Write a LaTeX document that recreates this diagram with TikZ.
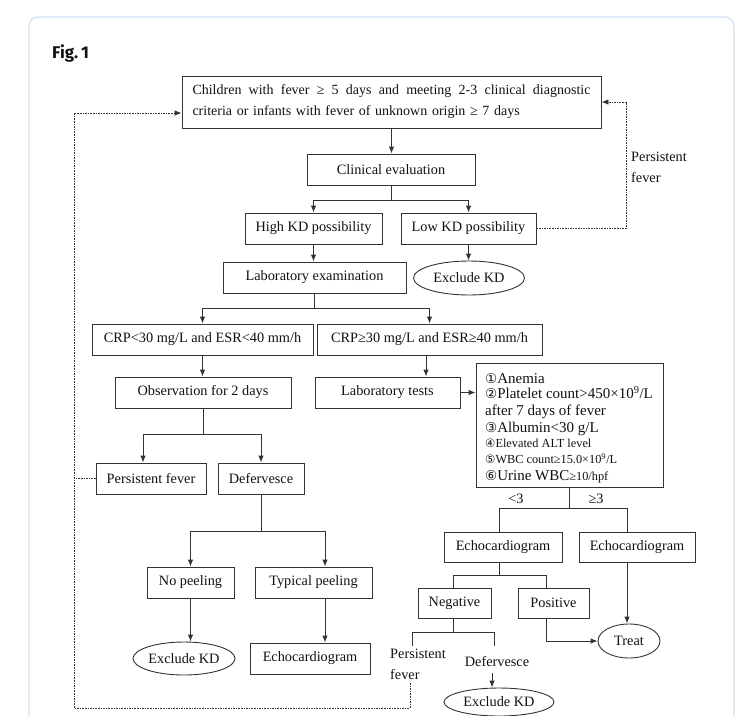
\documentclass[tikz,border=0pt]{standalone}
\usepackage{fontspec}
\setmainfont{Liberation Serif}
\newfontfamily\figfont{Fira Sans}
\newfontfamily\circfont{DejaVu Sans}
\usetikzlibrary{arrows.meta,shapes.geometric,calc}
\definecolor{linec}{HTML}{333333}
\definecolor{txtc}{HTML}{111111}
\definecolor{cardc}{HTML}{CFE2F3}
\newcommand\cnum[1]{{\circfont\fontsize{13.5}{13.5}\selectfont #1}}
\newcommand\cnumsm[1]{{\circfont\fontsize{11.5}{11.5}\selectfont #1}}
\tikzset{
 box/.style={draw=linec, line width=0.9pt, rectangle, inner sep=0pt, align=center, text=txtc, font=\fontsize{14.3}{17}\selectfont, minimum height=31pt},
 oval/.style={draw=linec, line width=0.9pt, ellipse, inner sep=0pt, text=txtc, font=\fontsize{14.3}{17}\selectfont},
 con/.style={draw=linec, line width=0.9pt},
 arr/.style={con, -{Latex[length=7pt,width=5.5pt]}},
 dsh/.style={draw=linec, line width=0.8pt, dash pattern=on 1.6pt off 1pt},
 dsharr/.style={dsh, -{Latex[length=7pt,width=5.5pt]}},
 lbl/.style={text=txtc, font=\fontsize{14.3}{21}\selectfont, inner sep=0pt},
 critline/.style={anchor=base west, inner sep=0pt, text=txtc},
}
\begin{document}
\begin{tikzpicture}[x=1pt,y=-1pt]
\useasboundingbox (0,0) rectangle (752,715);
% card
\draw[cardc, line width=1.2pt, rounded corners=9pt] (29,740) -- (29,17) -- (734,17) -- (734,740);
\node[font=\figfont\bfseries\fontsize{17}{17}\selectfont, text=txtc, anchor=west, inner sep=0pt] (fig) at (52,53) {Fig.\,1};

% boxes
\node[box, minimum width=419pt, minimum height=52pt, text width=398pt, align=left, font=\fontsize{14}{21}\selectfont] (top) at (391.5,102)
  {\hbox to 398pt{Children\hfill with\hfill fever\hfill ≥\hfill 5\hfill days\hfill and\hfill meeting\hfill 2-3\hfill clinical\hfill diagnostic}\\criteria or infants with fever of unknown origin ≥ 7 days};
\node[box, minimum width=168pt] (clin) at (391,169.5) {Clinical evaluation};
\node[box, minimum width=137pt] (high) at (313.5,228.5) {High KD possibility};
\node[box, minimum width=135pt] (low) at (468.5,228.5) {Low KD possibility};
\node[box, minimum width=183pt] (labexam) at (314.5,277.5) {Laboratory examination};
\node[oval, minimum width=111pt, minimum height=34pt] (excl1) at (469,278) {Exclude KD};
\node[lbl, align=left, anchor=west] (pfl1) at (631,167.5) {Persistent\\fever};

\node[box, minimum width=221pt] (crp1) at (202.5,339.5) {CRP<30 mg/L and ESR<40 mm/h};
\node[box, minimum width=225pt] (crp2) at (429.5,339.5) {CRP≥30 mg/L and ESR≥40 mm/h};
\node[box, minimum width=176pt] (obs) at (203,392.5) {Observation for 2 days};
\node[box, minimum width=145pt] (labtests) at (387.5,392.5) {Laboratory tests};

\node[box, minimum width=187pt, minimum height=124pt] (crit) at (569.5,425) {};
\node[critline, font=\fontsize{15}{15}\selectfont] (k1) at (485,383) {\cnum{①}Anemia};
\node[critline, font=\fontsize{15}{15}\selectfont] (k2) at (485,398.5) {\cnum{②}Platelet count>450×10\textsuperscript{9}/L};
\node[critline, font=\fontsize{15}{15}\selectfont] (k3) at (485,415) {after 7 days of fever};
\node[critline, font=\fontsize{15}{15}\selectfont] (k4) at (485,432) {\cnum{③}Albumin<30 g/L};
\node[critline, font=\fontsize{12.3}{12.3}\selectfont] (k5) at (485,447.5) {\cnumsm{④}Elevated ALT level};
\node[critline, font=\fontsize{12.3}{12.3}\selectfont] (k6) at (485,463.5) {\cnumsm{⑤}WBC count≥15.0×10\textsuperscript{9}/L};
\node[critline, font=\fontsize{15}{15}\selectfont] (k7) at (485,480) {\cnum{⑥}Urine WBC{\fontsize{12.3}{12.3}\selectfont ≥10/hpf}};
\node[lbl] (lt3) at (516,499) {<3};
\node[lbl] (ge3) at (596,499) {≥3};

\node[box, minimum width=110pt] (pf) at (151,478.5) {Persistent fever};
\node[box, minimum width=86pt] (def) at (261,478.5) {Defervesce};
\node[box, minimum width=87pt] (nopeel) at (190.5,582.5) {No peeling};
\node[box, minimum width=117pt] (typpeel) at (313.5,582.5) {Typical peeling};
\node[oval, minimum width=102pt, minimum height=33pt] (excl2) at (184,658.5) {Exclude KD};
\node[box, minimum width=120pt] (echo1) at (310,658.5) {Echocardiogram};

\node[box, minimum width=118pt, minimum height=30pt] (echoL) at (503,547) {Echocardiogram};
\node[box, minimum width=116pt, minimum height=30pt] (echoR) at (637,547) {Echocardiogram};
\node[box, minimum width=73pt, minimum height=30pt] (neg) at (454.5,603) {Negative};
\node[box, minimum width=71pt, minimum height=30pt] (pos) at (553.5,603) {Positive};
\node[oval, minimum width=62pt, minimum height=34pt] (treat) at (629,641) {Treat};
\node[lbl, align=left, anchor=west] (pfl2) at (390,664.5) {Persistent\\fever};
\node[lbl] (defl) at (497,662) {Defervesce};
\node[oval, minimum width=110pt, minimum height=28pt] (excl3) at (499,702) {Exclude KD};

% connectors
\draw[arr] (top.south) -- (top.south |- clin.north);
\draw[con] (clin.south) -- ++(0,14.5) coordinate (j1);
\draw[arr] (j1) -| (high.north);
\draw[arr] (j1) -| (low.north);
\coordinate (rr) at (626,228.5);
\draw[dsharr] (low.east) -- (rr) |- (top.east);
\draw[arr] (low.south) -- (low.south |- excl1.north);
\draw[arr] (high.south) -- (high.south |- labexam.north);
\draw[con] (labexam.south) -- ++(0,14.5) coordinate (j2);
\draw[arr] (j2) -| (crp1.north);
\draw[arr] (j2) -| (crp2.north);
\draw[arr] (crp1.south) -- (crp1.south |- obs.north);
\draw[arr] ([xshift=38.5pt]labtests.north |- crp2.south) -- ([xshift=38.5pt]labtests.north);
\draw[arr] (labtests.east) -- (labtests.east -| crit.west);

\draw[con] (obs.south) -- ++(0,26) coordinate (j3);
\draw[arr] (j3) -| ([xshift=-8pt]pf.north);
\draw[arr] (j3) -| (def.north);
\coordinate (lw) at (74,478.5);
\draw[dsh] (pf.west) -- (lw);
\coordinate (lb) at (410,683);
\coordinate (c1) at (410,708);
\coordinate (c2) at (74,708);
\draw[dsharr] (lb) -- (c1) -- (c2) |- ([yshift=-11pt]top.west);

\draw[con] (def.south) -- ++(0,37) coordinate (j4);
\draw[arr] (j4) -| (nopeel.north);
\draw[arr] (j4) -| ([xshift=11.5pt]typpeel.north);
\draw[arr] (nopeel.south) -- (nopeel.south |- excl2.north);
\draw[arr] ([xshift=11.5pt]typpeel.south) -- ([xshift=11.5pt]typpeel.south |- echo1.north);

\draw[con] ([xshift=-0.5pt]crit.south) -- ++(0,21) coordinate (j5);
\draw[con] (j5) -| ([xshift=-4pt]echoL.north);
\draw[con] (j5) -| ([xshift=-10pt]echoR.north);
\draw[con] ([xshift=-4pt]echoL.south) -- ++(0,13) coordinate (j6);
\draw[con] (j6) -| ([xshift=-1.5pt]neg.north);
\draw[con] (j6) -| ([xshift=-7.5pt]pos.north);
\draw[arr] ([xshift=-7.5pt]pos.south) |- (treat.west);
\draw[arr] ([xshift=-10pt]echoR.south) -- ([xshift=-10pt]echoR.south |- treat.north);
\draw[con] ([xshift=-1.5pt]neg.south) -- ++(0,14) coordinate (j7);
\coordinate (nl) at (412,646);
\coordinate (nr) at (494,646);
\draw[con] (nl) |- (j7) -| (nr);
\coordinate (da) at (492,673);
\draw[arr] (da) -- (da |- excl3.north);
\end{tikzpicture}
\end{document}
